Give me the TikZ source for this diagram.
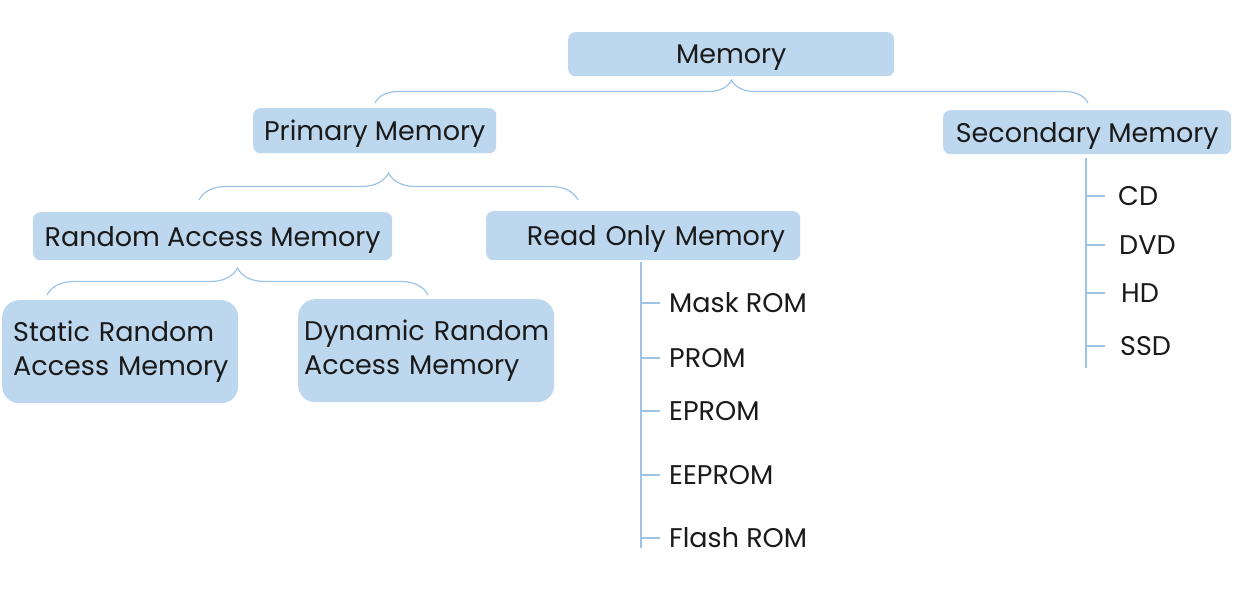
\documentclass[tikz,border=0pt]{standalone}
\usepackage{fontspec}
\setmainfont{Poppins}
\usepackage{xcolor}
\usetikzlibrary{positioning,decorations.pathreplacing}
\definecolor{ink}{HTML}{1A1A1A}
\definecolor{boxfill}{HTML}{BDD7EE}
\definecolor{linkblue}{HTML}{9DC3E6}
\newcommand{\memfont}{\fontsize{27}{33}\selectfont}

\begin{document}
\begin{tikzpicture}[x=1pt,y=-1pt,
  membox/.style={fill=boxfill,rounded corners=7pt,text=ink,inner sep=0pt,
                 anchor=north west,font=\memfont},
  linebox/.style={membox,text depth=0pt},
  tallbox/.style={membox,rounded corners=17pt,align=left},
  leaf/.style={anchor=west,text=ink,inner sep=0pt,font=\memfont},
  link/.style={draw=linkblue,line width=1.2pt},
  bracelink/.style={link,decorate,decoration={brace,amplitude=#1}}]
  \useasboundingbox (0,0) rectangle (1249,590);

  % boxes
  \node[linebox,minimum width=326,minimum height=44] (mem) at (568,32) {Memory};
  \node[linebox,minimum width=243,minimum height=45] (prim) at (253,108) {Primary Memory};
  \node[linebox,minimum width=288,minimum height=44] (sec) at (943,110) {Secondary Memory};
  \node[linebox,minimum width=359,minimum height=48] (ram) at (33,212) {Random Access Memory};
  \node[linebox,minimum height=49,text width=284,inner xsep=15pt,align=right]
    (rom) at (486,211) {Read Only Memory};
  \node[tallbox,minimum height=103,text width=214,inner xsep=11pt]
    (sram) at (2,300) {\mbox{Static Random}\\\mbox{Access Memory}};
  \node[tallbox,minimum height=103,text width=244,inner xsep=6pt]
    (dram) at (298,299) {\mbox{Dynamic Random}\\\mbox{Access Memory}};

  % braces
  \coordinate (memL) at (375,103);  \coordinate (memR) at (1088,103);
  \coordinate (primL) at (199,200); \coordinate (primR) at (578,200);
  \coordinate (ramL) at (47,295);   \coordinate (ramR) at (428,295);
  \draw[bracelink=23pt] (memL) -- (memR);
  \draw[bracelink=27pt] (primL) -- (primR);
  \draw[bracelink=27pt] (ramL) -- (ramR);

  % read only memory kinds
  \coordinate (romTop) at (641,262);
  \coordinate (romBot) at (641,548);
  \draw[link] (romTop) -- (romBot);
  \foreach \name/\txt/\ty in {mask/Mask ROM/303,prom/PROM/358,eprom/EPROM/411,
                              eeprom/EEPROM/475,flash/Flash ROM/538}{
    \node[leaf] (\name) at (669,\ty) {\txt};
    \draw[link,shorten >=9pt] (romTop |- \name.west) -- (\name.west);
  }

  % secondary memory kinds
  \coordinate (secTop) at (1086,158);
  \coordinate (secBot) at (1086,368);
  \draw[link] (secTop) -- (secBot);
  \foreach \name/\txt/\tx/\ty in {cd/CD/1118/196,dvd/DVD/1119/245,
                                  hd/HD/1121/293,ssd/SSD/1120/346}{
    \node[leaf] (\name) at (\tx,\ty) {\txt};
    \draw[link] (secTop |- \name.west) -- ++(19,0);
  }
\end{tikzpicture}
\end{document}
